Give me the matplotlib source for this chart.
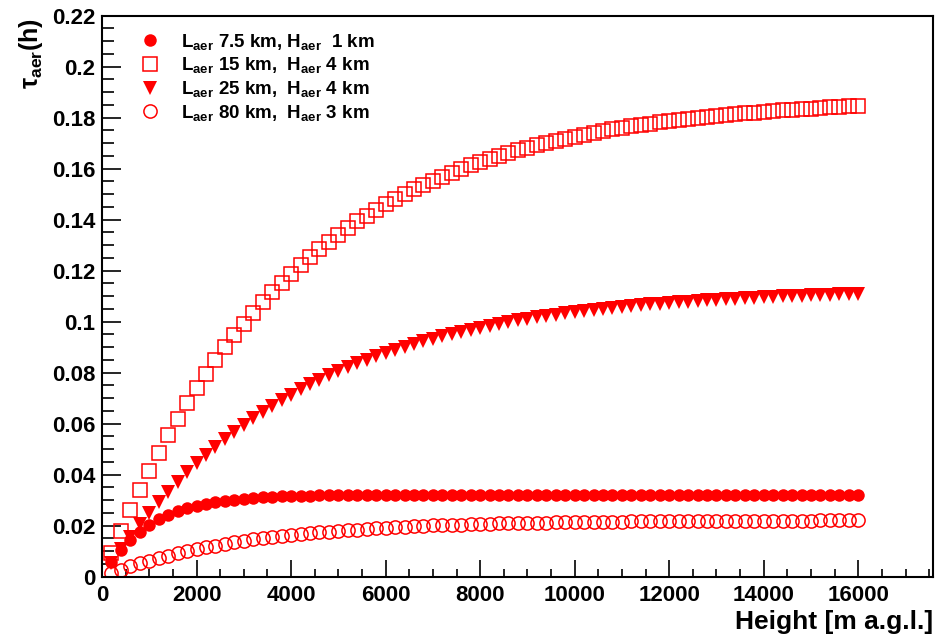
import matplotlib
matplotlib.use('Agg')
import matplotlib.pyplot as plt
from matplotlib.ticker import MultipleLocator, FuncFormatter

# heights above ground level [m], one point every 200 m
heights = list(range(200, 16001, 200))

# aerosol optical depth tau_aer(h) for the four aerosol models
tau_75_1 = [0.0058, 0.0106, 0.0145, 0.0177, 0.0204, 0.0225, 0.0243, 0.0257, 0.0269, 0.0278,
            0.0286, 0.0293, 0.0298, 0.0302, 0.0306, 0.0309, 0.0311, 0.0313, 0.0315, 0.0316,
            0.0317, 0.0318, 0.0319, 0.0319, 0.0320, 0.0320, 0.0321, 0.0321, 0.0321, 0.0321,
            0.0321, 0.0321, 0.0321, 0.0321, 0.0321, 0.0322, 0.0322, 0.0322, 0.0322, 0.0322,
            0.0322, 0.0322, 0.0322, 0.0322, 0.0322, 0.0322, 0.0322, 0.0322, 0.0322, 0.0322,
            0.0322, 0.0322, 0.0322, 0.0322, 0.0322, 0.0322, 0.0322, 0.0322, 0.0322, 0.0322,
            0.0322, 0.0322, 0.0322, 0.0322, 0.0322, 0.0322, 0.0322, 0.0322, 0.0322, 0.0322,
            0.0322, 0.0322, 0.0322, 0.0322, 0.0322, 0.0322, 0.0322, 0.0322, 0.0322, 0.0322]

tau_15_4 = [0.0092, 0.0179, 0.0262, 0.0341, 0.0416, 0.0487, 0.0555, 0.0620, 0.0681, 0.0740,
            0.0795, 0.0848, 0.0899, 0.0946, 0.0992, 0.1035, 0.1077, 0.1116, 0.1153, 0.1188,
            0.1222, 0.1254, 0.1285, 0.1314, 0.1341, 0.1368, 0.1393, 0.1416, 0.1439, 0.1461,
            0.1481, 0.1500, 0.1519, 0.1537, 0.1553, 0.1569, 0.1584, 0.1599, 0.1613, 0.1626,
            0.1638, 0.1650, 0.1661, 0.1672, 0.1682, 0.1692, 0.1701, 0.1710, 0.1718, 0.1726,
            0.1733, 0.1740, 0.1747, 0.1754, 0.1760, 0.1766, 0.1771, 0.1777, 0.1782, 0.1786,
            0.1791, 0.1795, 0.1799, 0.1803, 0.1807, 0.1811, 0.1814, 0.1817, 0.1820, 0.1823,
            0.1826, 0.1829, 0.1831, 0.1834, 0.1836, 0.1838, 0.1840, 0.1842, 0.1844, 0.1846]

tau_25_4 = [0.0055, 0.0108, 0.0157, 0.0205, 0.0250, 0.0293, 0.0334, 0.0373, 0.0410, 0.0445,
            0.0478, 0.0510, 0.0540, 0.0569, 0.0596, 0.0622, 0.0647, 0.0671, 0.0693, 0.0714,
            0.0735, 0.0754, 0.0772, 0.0790, 0.0806, 0.0822, 0.0837, 0.0851, 0.0865, 0.0878,
            0.0890, 0.0902, 0.0913, 0.0924, 0.0934, 0.0943, 0.0952, 0.0961, 0.0969, 0.0977,
            0.0985, 0.0992, 0.0998, 0.1005, 0.1011, 0.1017, 0.1022, 0.1028, 0.1033, 0.1037,
            0.1042, 0.1046, 0.1050, 0.1054, 0.1058, 0.1061, 0.1065, 0.1068, 0.1071, 0.1074,
            0.1077, 0.1079, 0.1082, 0.1084, 0.1086, 0.1088, 0.1090, 0.1092, 0.1094, 0.1096,
            0.1098, 0.1099, 0.1101, 0.1102, 0.1103, 0.1105, 0.1106, 0.1107, 0.1108, 0.1109]

tau_80_3 = [0.0014, 0.0028, 0.0040, 0.0052, 0.0063, 0.0073, 0.0083, 0.0092, 0.0100, 0.0108,
            0.0115, 0.0122, 0.0129, 0.0135, 0.0140, 0.0146, 0.0151, 0.0155, 0.0159, 0.0164,
            0.0167, 0.0171, 0.0174, 0.0177, 0.0180, 0.0183, 0.0185, 0.0188, 0.0190, 0.0192,
            0.0194, 0.0196, 0.0197, 0.0199, 0.0201, 0.0202, 0.0203, 0.0204, 0.0206, 0.0207,
            0.0208, 0.0209, 0.0209, 0.0210, 0.0211, 0.0212, 0.0212, 0.0213, 0.0214, 0.0214,
            0.0215, 0.0215, 0.0216, 0.0216, 0.0216, 0.0217, 0.0217, 0.0217, 0.0218, 0.0218,
            0.0218, 0.0218, 0.0219, 0.0219, 0.0219, 0.0219, 0.0219, 0.0220, 0.0220, 0.0220,
            0.0220, 0.0220, 0.0220, 0.0220, 0.0220, 0.0221, 0.0221, 0.0221, 0.0221, 0.0221]

labels = [r'L$_{aer}$ 7.5 km, H$_{aer}$  1 km',
          r'L$_{aer}$ 15 km,  H$_{aer}$ 4 km',
          r'L$_{aer}$ 25 km,  H$_{aer}$ 4 km',
          r'L$_{aer}$ 80 km,  H$_{aer}$ 3 km']

plt.rcParams['font.family'] = ['Liberation Sans', 'DejaVu Sans']
plt.rcParams['font.weight'] = 'bold'
plt.rcParams['mathtext.fontset'] = 'custom'
plt.rcParams['mathtext.rm'] = 'Liberation Sans:bold'
plt.rcParams['mathtext.bf'] = 'Liberation Sans:bold'
plt.rcParams['mathtext.it'] = 'Liberation Sans:bold'
plt.rcParams['mathtext.default'] = 'bf'

fig = plt.figure(figsize=(9.53, 6.38), dpi=100)
ax = fig.add_axes([0.107, 0.0961, 0.872, 0.8793])

red = '#ff0000'
ax.plot(heights, tau_75_1, 'o', color=red, ms=9, mew=0, label=labels[0])
ax.plot(heights, tau_15_4, 's', mfc='none', mec=red, mew=1.1, ms=10, label=labels[1])
ax.plot(heights, tau_25_4, 'v', color=red, ms=10, mew=0, label=labels[2])
ax.plot(heights, tau_80_3, 'o', mfc='none', mec=red, mew=1.1, ms=9.5, label=labels[3])

ax.set_xlim(0, 17580)
ax.set_ylim(0, 0.22)

ax.xaxis.set_major_locator(MultipleLocator(2000))
ax.xaxis.set_minor_locator(MultipleLocator(500))
ax.yaxis.set_major_locator(MultipleLocator(0.02))
ax.yaxis.set_minor_locator(MultipleLocator(0.005))
ax.yaxis.set_major_formatter(FuncFormatter(lambda v, p: '%g' % round(v, 3)))

ax.tick_params(which='both', direction='in', top=False, right=False, width=1.2)
ax.tick_params(axis='y', which='major', length=14, labelsize=16, pad=5)
ax.tick_params(axis='y', which='minor', length=8.5)
ax.tick_params(axis='x', which='major', length=12, labelsize=16, pad=6)
ax.tick_params(axis='x', which='minor', length=6)
for lab in ax.get_xticklabels() + ax.get_yticklabels():
    lab.set_fontweight('bold')

for s in ax.spines.values():
    s.set_linewidth(1.5)

fig.text(933 / 953, 1 - 622 / 638, 'Height [m a.g.l.]', ha='right', va='center',
         fontsize=19, fontweight='bold')
fig.text(31 / 953, 1 - 18 / 638, r'$\tau_{aer}$(h)', ha='center', va='top',
         rotation=90, fontsize=18, fontweight='bold')

ax.legend(loc='upper left', bbox_to_anchor=(0.037, 0.985), frameon=False,
          fontsize=13.5, handlelength=1.0, handletextpad=1.2, labelspacing=0.2,
          borderaxespad=0, numpoints=1)

fig.savefig('out.png', dpi=100)
